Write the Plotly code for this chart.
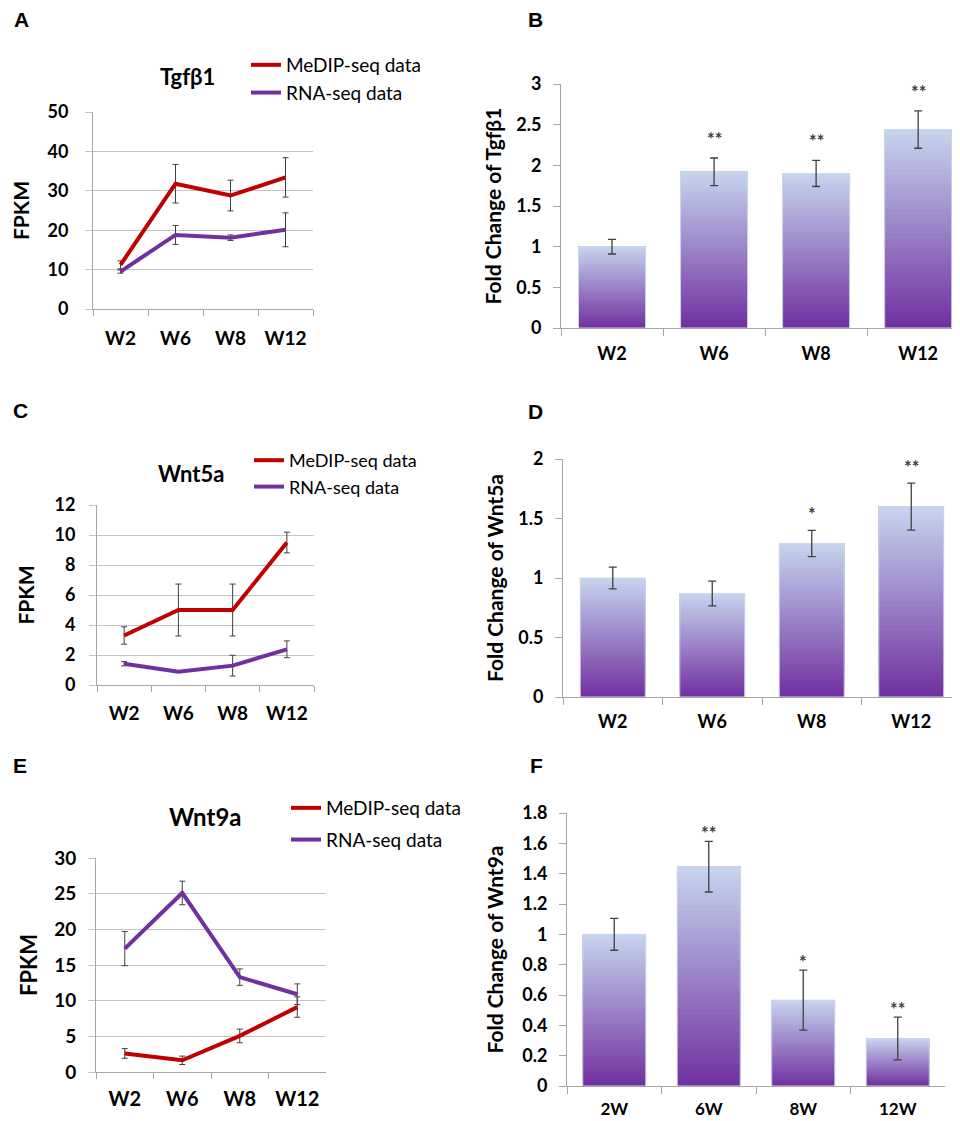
import plotly.graph_objects as go

# The page body keeps its default 8px margin, so the figure is drawn 8px in
# from the top-left corner; reference pixel coordinates are converted with it.
PAGE_W, PAGE_H = 960, 1121
OFF = 8
W, H = PAGE_W - OFF, PAGE_H - OFF

FONT = "Lato, sans-serif"
RED = "#c00000"
PURPLE = "#7030a0"
ERR = "#404040"
AXIS = "#a6a6a6"
GRID = "#c4c4c4"
BAR_BOTTOM = (112, 48, 160)
BAR_TOP = (198, 213, 238)
BAR_EDGE = "rgb(206,214,238)"

# ---------------- data ----------------
weeks = ["W2", "W6", "W8", "W12"]
weeks_f = ["2W", "6W", "8W", "12W"]

# A: Tgfb1 FPKM
tgfb1_medip = [11.2, 31.8, 28.8, 33.4]
tgfb1_medip_err = [1.0, 4.9, 3.9, 5.0]
tgfb1_rna = [9.5, 18.8, 18.1, 20.1]
tgfb1_rna_err = [0.4, 2.4, 0.7, 4.3]

# B: Tgfb1 fold change
tgfb1_fold = [1.0, 1.92, 1.90, 2.44]
tgfb1_fold_err = [0.09, 0.17, 0.16, 0.23]
tgfb1_sig = ["", "**", "**", "**"]

# C: Wnt5a FPKM
wnt5a_medip = [3.3, 5.0, 5.0, 9.5]
wnt5a_medip_err = [0.58, 1.73, 1.73, 0.69]
wnt5a_rna = [1.42, 0.89, 1.29, 2.38]
wnt5a_rna_err = [0.14, 0.0, 0.69, 0.56]

# D: Wnt5a fold change
wnt5a_fold = [1.0, 0.87, 1.29, 1.60]
wnt5a_fold_err = [0.092, 0.104, 0.11, 0.197]
wnt5a_sig = ["", "", "*", "**"]

# E: Wnt9a FPKM
wnt9a_medip = [2.6, 1.64, 5.06, 9.1]
wnt9a_medip_err = [0.68, 0.59, 0.96, 1.43]
wnt9a_rna = [17.3, 25.1, 13.3, 10.9]
wnt9a_rna_err = [2.4, 1.65, 1.15, 1.45]

# F: Wnt9a fold change
wnt9a_fold = [1.0, 1.446, 0.566, 0.313]
wnt9a_fold_err = [0.105, 0.167, 0.198, 0.141]
wnt9a_sig = ["", "**", "*", "**"]

# ---------------- helpers ----------------
def px(x):
    return (x - OFF) / W


def py(y):
    return 1 - (y - OFF) / H


def xdom(a, b):
    return [px(a), px(b)]


def ydom(top, bottom):
    return [py(bottom), py(top)]


def suf(i):
    return "" if i == 1 else str(i)


fig = go.Figure()
layout_axes = {}
annotations = []


def err_dict(arr, thick=1, width=3):
    return dict(type="data", array=arr, visible=True, color=ERR,
                thickness=thick, width=width)


def add_line_panel(i, cats, medip, medip_err, rna, rna_err, legend_name,
                   xd, yd, yrange, dtick, xfont, yfont, title_size, standoff,
                   xstand, ystand):
    s = suf(i)
    fig.add_trace(go.Scatter(
        x=cats, y=medip, mode="lines", name="MeDIP-seq data",
        line=dict(color=RED, width=4), error_y=err_dict(medip_err),
        xaxis="x" + s, yaxis="y" + s, legend=legend_name,
        legendgroup=legend_name + "a", hoverinfo="skip"))
    fig.add_trace(go.Scatter(
        x=cats, y=rna, mode="lines", name="RNA-seq data",
        line=dict(color=PURPLE, width=4), error_y=err_dict(rna_err),
        xaxis="x" + s, yaxis="y" + s, legend=legend_name,
        legendgroup=legend_name + "b", hoverinfo="skip"))
    layout_axes["xaxis" + s] = dict(
        domain=xdom(*xd), anchor="y" + s, type="category", automargin=False,
        categoryorder="array", categoryarray=cats, range=[-0.5, 3.5],
        tickson="boundaries", ticks="outside", ticklen=6, tickcolor=AXIS,
        showline=True, linecolor=AXIS, linewidth=1, showgrid=False,
        zeroline=False, ticklabelstandoff=xstand,
        tickfont=dict(family=FONT, size=xfont, color="black", weight="bold"))
    layout_axes["yaxis" + s] = dict(
        domain=ydom(*yd), anchor="x" + s, range=list(yrange), dtick=dtick,
        automargin=False,
        showgrid=True, gridcolor=GRID, gridwidth=1, showline=True,
        linecolor=AXIS, linewidth=1, ticks="outside", ticklen=7,
        tickcolor=GRID, zeroline=False, ticklabelstandoff=ystand,
        tickfont=dict(family=FONT, size=yfont, color="black", weight="bold"),
        title=dict(text="FPKM", standoff=standoff,
                   font=dict(family=FONT, size=title_size, color="black",
                             weight="bold")))


def lerp(c0, c1, t):
    return "rgb(%d,%d,%d)" % tuple(round(a + (b - a) * t) for a, b in zip(c0, c1))


def add_bar_panel(i, cats, vals, errs, sig, ytitle, xd, yd, yrange, dtick,
                  bw, xrange_max, star_shift, standoff, xstand, xfont,
                  nseg=40):
    s = suf(i)
    # nested bars: each layer covers from its level up to the bar top,
    # lighter layers drawn later -> smooth vertical gradient without seams
    for k in range(nseg):
        t = (k + 0.5) / nseg
        fig.add_trace(go.Bar(
            x=cats, y=[v * (nseg - k) / nseg for v in vals],
            base=[v * k / nseg for v in vals], width=bw,
            marker=dict(color=lerp(BAR_BOTTOM, BAR_TOP, t), line=dict(width=0)),
            xaxis="x" + s, yaxis="y" + s, showlegend=False, hoverinfo="skip"))
    fig.add_trace(go.Bar(
        x=cats, y=vals, width=bw,
        marker=dict(color="rgba(0,0,0,0)", line=dict(color=BAR_EDGE, width=1)),
        error_y=err_dict(errs, thick=1.3, width=4),
        xaxis="x" + s, yaxis="y" + s, showlegend=False, hoverinfo="skip"))
    for c, v, e, st in zip(cats, vals, errs, sig):
        if st:
            annotations.append(dict(
                x=c, y=v + e, xref="x" + s, yref="y" + s, text=st,
                showarrow=False, yanchor="bottom", yshift=star_shift,
                font=dict(family=FONT, size=18, color=ERR, weight="bold")))
    layout_axes["xaxis" + s] = dict(
        domain=xdom(*xd), anchor="y" + s, type="category", automargin=False,
        categoryorder="array", categoryarray=cats,
        range=[-0.5, xrange_max], tickson="boundaries", ticks="outside",
        ticklen=7, tickcolor=AXIS, showline=True, linecolor=AXIS,
        linewidth=1, showgrid=False, zeroline=False, ticklabelstandoff=xstand,
        tickfont=dict(family=FONT, size=xfont, color="black", weight="bold"))
    layout_axes["yaxis" + s] = dict(
        domain=ydom(*yd), anchor="x" + s, range=list(yrange), dtick=dtick,
        automargin=False,
        showgrid=False, showline=True, linecolor=AXIS, linewidth=1,
        ticks="outside", ticklen=7, tickcolor=AXIS, zeroline=False,
        ticklabelstandoff=8,
        tickfont=dict(family=FONT, size=18, color="black", weight="bold"),
        title=dict(text=ytitle, standoff=standoff,
                   font=dict(family=FONT, size=21, color="black",
                             weight="bold")))


# ---------------- panels ----------------
add_line_panel(1, weeks, tgfb1_medip, tgfb1_medip_err, tgfb1_rna, tgfb1_rna_err,
               "legend", (93, 313), (112, 309), (0, 50), 10, 19, 18, 21, 14,
               12, 13)
add_bar_panel(2, weeks, tgfb1_fold, tgfb1_fold_err, tgfb1_sig,
              "Fold Change of Tgfβ1", (561, 960), (84, 328), (0, 3), 0.5,
              0.657, 3.41, 6, 8, 9, 18)
add_line_panel(3, weeks, wnt5a_medip, wnt5a_medip_err, wnt5a_rna, wnt5a_rna_err,
               "legend2", (97, 314), (505, 685), (0, 12), 2, 19, 18, 21, 14,
               11, 10)
add_bar_panel(4, weeks, wnt5a_fold, wnt5a_fold_err, wnt5a_sig,
              "Fold Change of Wnt5a", (563, 960), (459, 697), (0, 2), 0.5,
              0.653, 3.49, 3, 8, 8, 18)
add_line_panel(5, weeks, wnt9a_medip, wnt9a_medip_err, wnt9a_rna, wnt9a_rna_err,
               "legend3", (96, 326), (858, 1072), (0, 30), 5, 20, 19, 22, 10,
               9, 8)
add_bar_panel(6, weeks_f, wnt9a_fold, wnt9a_fold_err, wnt9a_sig,
              "Fold Change of Wnt9a", (567, 945), (813, 1086), (0, 1.8), 0.2,
              0.667, 3.5, -5, 12, 8, 17)

# panel titles
for text, cx, cy, size in [("Tgfβ1", 187, 77, 22), ("Wnt5a", 191, 474, 22),
                           ("Wnt9a", 205, 816, 24)]:
    annotations.append(dict(x=px(cx), y=py(cy), xref="paper", yref="paper",
                            text=text, showarrow=False, xanchor="center",
                            yanchor="middle",
                            font=dict(family=FONT, size=size, color="black",
                                      weight="bold")))

# panel letters
for text, cx, cy in [("A", 21, 20), ("B", 535, 20), ("C", 20, 410),
                     ("D", 535, 411), ("E", 20, 765), ("F", 536, 765)]:
    annotations.append(dict(x=px(cx), y=py(cy), xref="paper", yref="paper",
                            text=text, showarrow=False, xanchor="center",
                            yanchor="middle",
                            font=dict(family="Liberation Sans, Arial", size=21,
                                      color="black", weight="bold")))


def legend_cfg(text_left, first_center, gap, size=19):
    return dict(x=px(text_left - 42), y=py(first_center - 19),
                xanchor="left", yanchor="top", bgcolor="rgba(0,0,0,0)",
                traceorder="grouped", tracegroupgap=gap, itemwidth=30,
                font=dict(family=FONT, size=size, color="black"))


fig.update_layout(
    template="none",
    width=W, height=H, margin=dict(l=0, r=0, t=0, b=0, autoexpand=False),
    paper_bgcolor="white", plot_bgcolor="white", barmode="overlay",
    showlegend=True,
    legend=legend_cfg(288, 65, 0),
    legend2=legend_cfg(291, 461, 0, 18),
    legend3=legend_cfg(328, 808, 4),
    annotations=annotations,
    **layout_axes)

fig.write_html("out.html")
